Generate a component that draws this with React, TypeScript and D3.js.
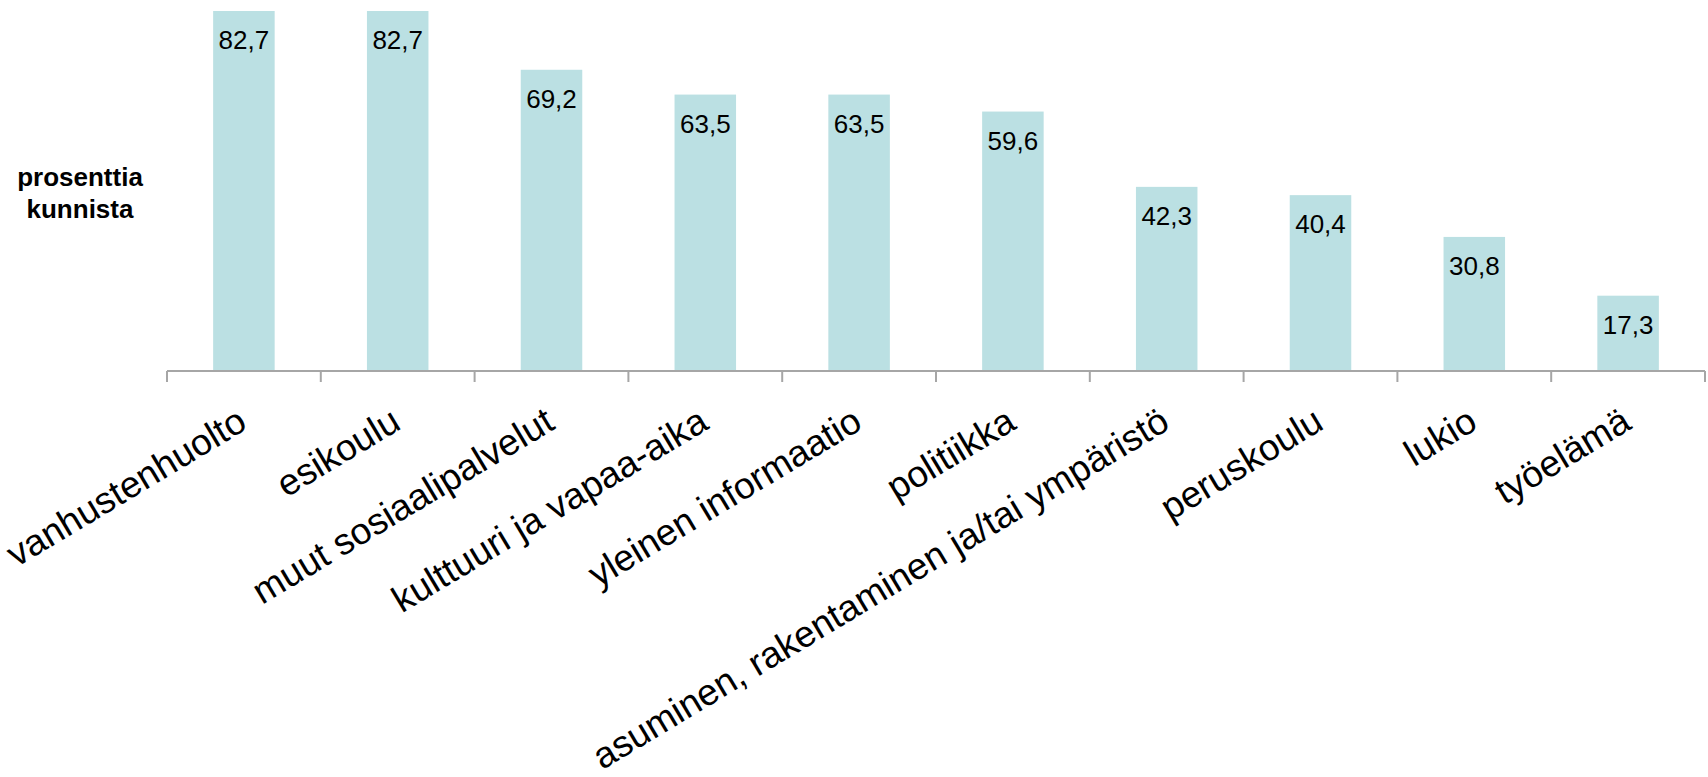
import React from "react";
import * as d3 from "d3";

const categories = [
  "vanhustenhuolto",
  "esikoulu",
  "muut sosiaalipalvelut",
  "kulttuuri ja vapaa-aika",
  "yleinen informaatio",
  "politiikka",
  "asuminen, rakentaminen ja/tai ympäristö",
  "peruskoulu",
  "lukio",
  "työelämä",
];
const values = [82.7, 82.7, 69.2, 63.5, 63.5, 59.6, 42.3, 40.4, 30.8, 17.3];
const yAxisTitle = ["prosenttia", "kunnista"];

const W = 1708;
const H = 777;
const FONT = "'Liberation Sans', Arial, sans-serif";

export default function App() {
  const x = d3
    .scaleBand<string>()
    .domain(categories)
    .range([167, 1705])
    .paddingInner(0.6)
    .paddingOuter(0.3);
  const y = d3.scaleLinear().domain([0, 82.7]).range([371, 11]);
  const step = x.step();
  const [r0] = x.range();
  const tickXs = d3.range(categories.length + 1).map((i) => r0 + i * step);
  const fmt = (v: number) => v.toFixed(1).replace(".", ",");

  return (
    <svg
      width={W}
      height={H}
      style={{ position: "absolute", left: 0, top: 0, background: "#fff" }}
    >
      {categories.map((c, i) => (
        <rect
          key={c}
          x={x(c)!}
          y={y(values[i])}
          width={x.bandwidth()}
          height={y(0) - y(values[i])}
          fill="#bbe0e3"
        />
      ))}
      {categories.map((c, i) => (
        <text
          key={"v" + c}
          x={x(c)! + x.bandwidth() / 2}
          y={y(values[i]) + 38}
          textAnchor="middle"
          fontFamily={FONT}
          fontSize={26}
          fill="#000"
        >
          {fmt(values[i])}
        </text>
      ))}
      <line
        x1={r0}
        x2={r0 + step * categories.length}
        y1={y(0)}
        y2={y(0)}
        stroke="#a6a6a6"
        strokeWidth={2}
      />
      {tickXs.map((tx, i) => (
        <line
          key={"t" + i}
          x1={tx}
          x2={tx}
          y1={y(0)}
          y2={y(0) + 11}
          stroke="#a6a6a6"
          strokeWidth={2}
        />
      ))}
      {categories.map((c) => {
        const cx = x(c)! + x.bandwidth() / 2 + 5;
        const cy = 428;
        return (
          <text
            key={"c" + c}
            x={cx}
            y={cy}
            transform={`rotate(-31 ${cx} ${cy})`}
            textAnchor="end"
            fontFamily={FONT}
            fontSize={37}
            fill="#000"
          >
            {c}
          </text>
        );
      })}
      <text
        x={80}
        y={186}
        textAnchor="middle"
        fontFamily={FONT}
        fontSize={26}
        fontWeight="bold"
        fill="#000"
      >
        {yAxisTitle[0]}
      </text>
      <text
        x={80}
        y={218}
        textAnchor="middle"
        fontFamily={FONT}
        fontSize={26}
        fontWeight="bold"
        fill="#000"
      >
        {yAxisTitle[1]}
      </text>
    </svg>
  );
}
